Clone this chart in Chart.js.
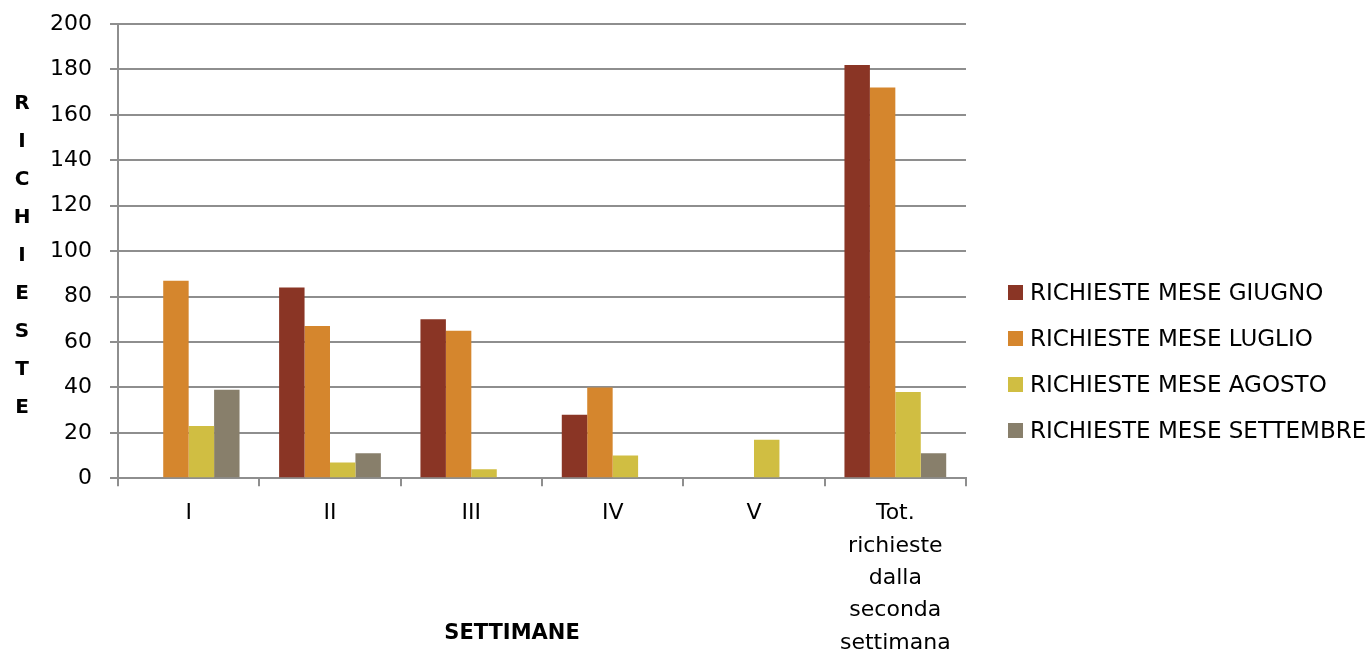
<!DOCTYPE html>
<html>
<head>
<meta charset="utf-8">
<script src="https://cdn.jsdelivr.net/npm/chart.js@4/dist/chart.umd.min.js"></script>
<style>
  html, body { margin: 0; padding: 0; background: #fff; }
  #wrap { position: relative; width: 1370px; height: 656px; }
  #legend { position: absolute; left: 1008px; top: 269px; font-family: 'DejaVu Sans', sans-serif; font-size: 23px; color: #000; }
  #legend .item { display: flex; align-items: center; height: 46px; white-space: nowrap; }
  #legend .box { width: 15px; height: 15px; margin-right: 7px; flex: none; }
</style>
</head>
<body>
<div id="wrap">
  <canvas id="chart" width="1370" height="656"></canvas>
  <div id="legend"></div>
</div>
<script>
// categories (settimane)
const categories = ['I', 'II', 'III', 'IV', 'V', ['Tot.', 'richieste', 'dalla', 'seconda', 'settimana']];

// series
const giugno    = [0, 84, 70, 28, 0, 182];
const luglio    = [87, 67, 65, 40, 0, 172];
const agosto    = [23, 7, 4, 10, 17, 38];
const settembre = [39, 11, 0, 0, 0, 11];

const seriesNames = ['RICHIESTE MESE GIUGNO', 'RICHIESTE MESE LUGLIO', 'RICHIESTE MESE AGOSTO', 'RICHIESTE MESE SETTEMBRE'];
const colors = ['#8a3525', '#d5862d', '#d0be42', '#887f6b'];

const yMin = 0, yMax = 200, yStep = 20;
const yTitle = 'RICHIESTE';
const xTitle = 'SETTIMANE';

const FONT = "'DejaVu Sans', sans-serif";
const gridColor = '#8e8e8e';

// draws the stacked-letter y title and the x title
const axisTitles = {
  id: 'axisTitles',
  afterDraw(chart) {
    const { ctx, chartArea } = chart;
    ctx.save();
    ctx.fillStyle = '#000';
    ctx.font = "bold 20px 'DejaVu Sans', sans-serif";
    ctx.textAlign = 'center';
    ctx.textBaseline = 'middle';
    const letters = yTitle.split('');
    const gap = 38;
    const midY = (chartArea.top + chartArea.bottom) / 2 + 5;
    const startY = midY - gap * (letters.length - 1) / 2;
    letters.forEach((l, i) => ctx.fillText(l, 22, startY + i * gap));

    ctx.font = "bold 21px 'DejaVu Sans', sans-serif";
    const cx = (chartArea.left + chartArea.right) / 2 - 30;
    ctx.fillText(xTitle, cx, chart.height - 22);
    ctx.restore();
  }
};

const datasets = [giugno, luglio, agosto, settembre].map((d, i) => ({
  label: seriesNames[i],
  data: d,
  backgroundColor: colors[i],
  borderWidth: 0,
  categoryPercentage: 0.72,
  barPercentage: 1.0
}));

const chart = new Chart(document.getElementById('chart').getContext('2d'), {
  type: 'bar',
  data: { labels: categories, datasets },
  options: {
    responsive: false,
    animation: false,
    layout: { padding: { left: 32, top: 24, right: 404, bottom: -14 } },
    plugins: {
      legend: { display: false },
      tooltip: { enabled: false }
    },
    scales: {
      x: {
        grid: { drawOnChartArea: false, color: gridColor, lineWidth: 2, tickLength: 8 },
        border: { color: gridColor, width: 2 },
        ticks: { color: '#000', font: { family: FONT, size: 22, lineHeight: 1.47 }, padding: 11, maxRotation: 0 }
      },
      y: {
        min: yMin, max: yMax,
        grid: { color: gridColor, lineWidth: 2, tickLength: 8 },
        border: { color: gridColor, width: 2 },
        ticks: { stepSize: yStep, color: '#000', font: { family: FONT, size: 22, lineHeight: 0.5 }, padding: 18 }
      }
    }
  },
  plugins: [axisTitles]
});

// legend built from the datasets
document.getElementById('legend').innerHTML = chart.data.datasets.map(ds =>
  `<div class="item"><span class="box" style="background:${ds.backgroundColor}"></span>${ds.label}</div>`
).join('');
</script>
</body>
</html>
